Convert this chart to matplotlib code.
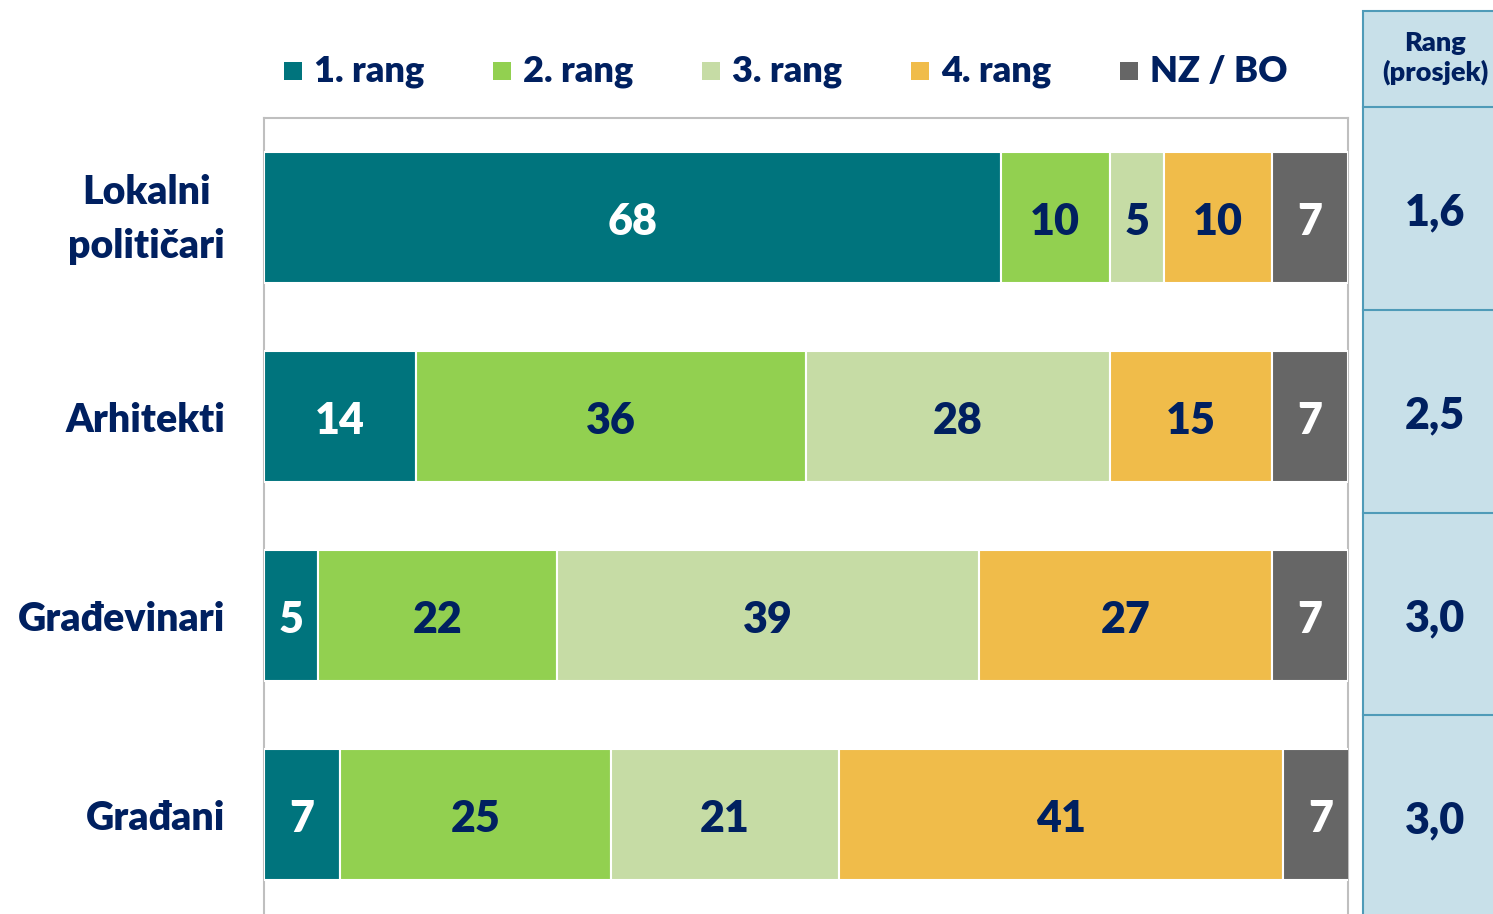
import matplotlib
matplotlib.use("Agg")
import matplotlib.pyplot as plt
from matplotlib.patches import Rectangle
import numpy as np

categories = ["Lokalni\npolitičari", "Arhitekti", "Građevinari", "Građani"]
series_names = ["1. rang", "2. rang", "3. rang", "4. rang", "NZ / BO"]
rang1 = [68, 14, 5, 7]
rang2 = [10, 36, 22, 25]
rang3 = [5, 28, 39, 21]
rang4 = [10, 15, 27, 41]
nzbo = [7, 7, 7, 7]
avg_rank = [1.6, 2.5, 3.0, 3.0]
header = "Rang\n(prosjek)"

colors = ["#00747D", "#92D050", "#C6DCA5", "#F0BC4A", "#666666"]
text_colors = ["white", "#002060", "#002060", "#002060", "white"]
navy = "#002060"
FW = "heavy"

plt.rcParams['font.family'] = ['Lato', 'DejaVu Sans']

W, H = 1493, 914
fig = plt.figure(figsize=(W / 100, H / 100), dpi=100)

ax = fig.add_axes([264 / W, 0, (1348 - 264) / W, (914 - 118) / H])
ax.set_xlim(0, 100)
ax.set_ylim(3.5, -0.5)

data = [rang1, rang2, rang3, rang4, nzbo]
y = np.arange(len(categories))
left = np.zeros(len(categories))
bar_h = 0.657
for i, vals in enumerate(data):
    vals = np.array(vals, dtype=float)
    ax.barh(y, vals, left=left, height=bar_h, color=colors[i],
            edgecolor="white", linewidth=1.5, zorder=3)
    for j in range(len(categories)):
        cx = left[j] + vals[j] / 2
        if cx > 100:
            cx = (left[j] + 100) / 2
        ax.text(cx, y[j] + 0.025, f"{int(vals[j])}", ha="center", va="center",
                fontsize=31, fontweight=FW, color=text_colors[i], zorder=4)
    left += vals

for s in ["left", "top", "right"]:
    ax.spines[s].set_color("#BFBFBF")
    ax.spines[s].set_linewidth(1.5)
ax.spines["bottom"].set_visible(False)
ax.set_xticks([])
ax.set_yticks([])

# Category labels
for j, cat in enumerate(categories):
    dy = -2 if "\n" in cat else -4
    ax.annotate(cat, xy=(0, y[j]), xycoords=("axes fraction", "data"),
                xytext=(-39, dy), textcoords="offset pixels",
                ha="right", va="center", multialignment="center",
                fontsize=28.3, fontweight=FW, color=navy, linespacing=1.55,
                annotation_clip=False)

# Legend
leg_x0 = 284
leg_dx = 209
for i, name in enumerate(series_names):
    x = leg_x0 + i * leg_dx
    fig.patches.append(Rectangle(((x) / W, 1 - 80 / H), 18 / W, 18 / H,
                                 transform=fig.transFigure, facecolor=colors[i],
                                 edgecolor="none"))
    fig.text((x + 30) / W, 1 - 72 / H, name, ha="left", va="center",
             fontsize=26, fontweight=FW, color=navy)

# Right panel
ax2 = fig.add_axes([1363 / W, 0, 200 / W, 1])
ax2.set_xlim(0, 200)
ax2.set_ylim(H, 0)
ax2.axis("off")
ax2.add_patch(Rectangle((0, 11), 300, H + 50, facecolor="#C8E0E9",
                        edgecolor="#4F9BB8", linewidth=1.5, clip_on=False))
row_edges = [107, 310, 513, 715, 918]
for e in row_edges[:-1]:
    ax2.plot([0, 300], [e, e], color="#4F9BB8", linewidth=1.5, clip_on=False)
ax2.text(72, 58, header, ha="center", va="center", fontsize=19.5,
         fontweight=FW, color=navy, linespacing=1.25)
for j, v in enumerate(avg_rank):
    cy = (row_edges[j] + row_edges[j + 1]) / 2 + 4
    ax2.text(72, cy, f"{v:.1f}".replace(".", ","), ha="center", va="center",
             fontsize=31, fontweight=FW, color=navy)

fig.savefig("out.png", dpi=100)
